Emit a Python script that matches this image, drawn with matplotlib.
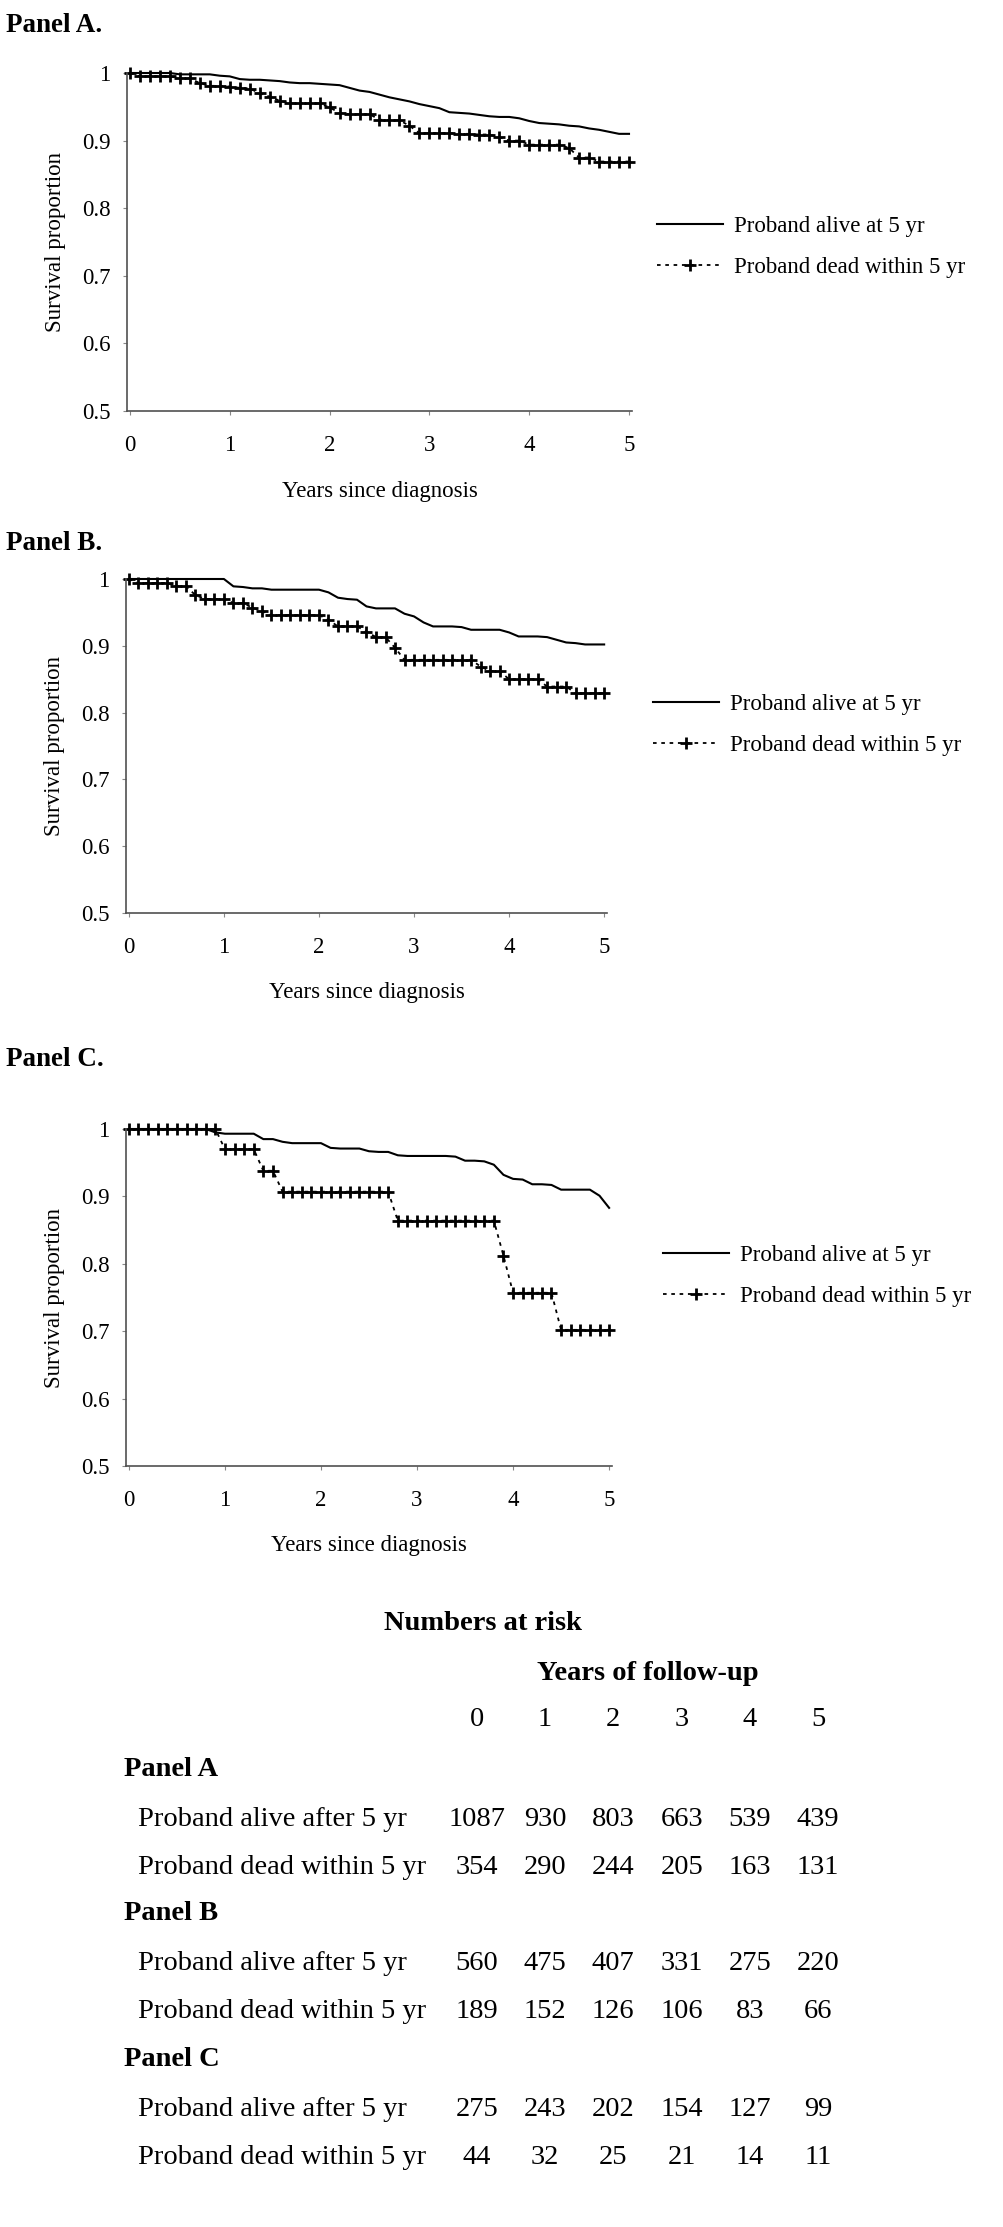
import matplotlib
matplotlib.use("Agg")
import matplotlib.pyplot as plt
import numpy as np

plt.rcParams["font.family"] = ["Liberation Serif", "DejaVu Serif"]

# survival read at 0.1-year steps, 0 .. 5 years
years = np.round(np.arange(0, 5.01, 0.1), 1)

alive_a = [1.000, 1.000, 1.000, 1.000, 1.000, 0.998, 0.998, 0.998, 0.998, 0.996,
           0.995, 0.991, 0.990, 0.990, 0.989, 0.988, 0.986, 0.985, 0.985, 0.984,
           0.983, 0.982, 0.978, 0.974, 0.972, 0.968, 0.964, 0.961, 0.958, 0.954,
           0.951, 0.948, 0.942, 0.941, 0.940, 0.938, 0.936, 0.935, 0.935, 0.933,
           0.929, 0.926, 0.925, 0.924, 0.922, 0.921, 0.918, 0.916, 0.913, 0.910,
           0.910]
dead_a = [1.000, 0.995, 0.995, 0.995, 0.995, 0.992, 0.992, 0.985, 0.981, 0.981,
          0.980, 0.978, 0.977, 0.970, 0.965, 0.959, 0.955, 0.955, 0.955, 0.955,
          0.949, 0.941, 0.939, 0.939, 0.939, 0.931, 0.930, 0.930, 0.922, 0.911,
          0.911, 0.911, 0.911, 0.910, 0.910, 0.909, 0.909, 0.905, 0.900, 0.900,
          0.894, 0.894, 0.894, 0.894, 0.889, 0.875, 0.875, 0.869, 0.869, 0.869,
          0.869]

alive_b = [1.000, 1.000, 1.000, 1.000, 1.000, 1.000, 1.000, 1.000, 1.000, 1.000,
           1.000, 0.989, 0.988, 0.986, 0.986, 0.984, 0.984, 0.984, 0.984, 0.984,
           0.984, 0.980, 0.972, 0.970, 0.969, 0.959, 0.956, 0.956, 0.956, 0.948,
           0.944, 0.935, 0.929, 0.929, 0.929, 0.928, 0.924, 0.924, 0.924, 0.924,
           0.920, 0.914, 0.914, 0.914, 0.913, 0.909, 0.905, 0.904, 0.902, 0.902,
           0.902]
dead_b = [1.000, 0.994, 0.994, 0.994, 0.994, 0.989, 0.989, 0.976, 0.970, 0.970,
          0.970, 0.964, 0.964, 0.957, 0.952, 0.946, 0.946, 0.946, 0.946, 0.946,
          0.946, 0.939, 0.929, 0.929, 0.929, 0.921, 0.913, 0.913, 0.897, 0.879,
          0.879, 0.879, 0.879, 0.879, 0.879, 0.879, 0.879, 0.869, 0.862, 0.862,
          0.850, 0.850, 0.850, 0.850, 0.839, 0.839, 0.839, 0.829, 0.829, 0.829,
          0.829]

alive_c = [1.000, 1.000, 1.000, 1.000, 1.000, 1.000, 1.000, 1.000, 1.000, 0.995,
           0.993, 0.993, 0.993, 0.993, 0.985, 0.985, 0.981, 0.979, 0.979, 0.979,
           0.979, 0.972, 0.971, 0.971, 0.971, 0.967, 0.966, 0.966, 0.961, 0.960,
           0.960, 0.960, 0.960, 0.960, 0.959, 0.953, 0.953, 0.952, 0.947, 0.932,
           0.926, 0.925, 0.918, 0.918, 0.917, 0.910, 0.910, 0.910, 0.910, 0.901,
           0.883]
dead_c = [1.000, 1.000, 1.000, 1.000, 1.000, 1.000, 1.000, 1.000, 1.000, 1.000,
          0.970, 0.970, 0.970, 0.970, 0.938, 0.938, 0.907, 0.907, 0.907, 0.907,
          0.907, 0.907, 0.907, 0.907, 0.907, 0.907, 0.907, 0.907, 0.864, 0.864,
          0.864, 0.864, 0.864, 0.864, 0.864, 0.864, 0.864, 0.864, 0.864, 0.812,
          0.757, 0.757, 0.757, 0.757, 0.757, 0.702, 0.702, 0.702, 0.702, 0.702,
          0.702]

legend_labels = ["Proband alive at 5 yr", "Proband dead within 5 yr"]

# numbers at risk table
risk_years = ["0", "1", "2", "3", "4", "5"]
risk_groups = ["Panel A", "Panel B", "Panel C"]
risk_rows = ["Proband alive after 5 yr", "Proband dead within 5 yr"]
risk_a = [[1087, 930, 803, 663, 539, 439], [354, 290, 244, 205, 163, 131]]
risk_b = [[560, 475, 407, 331, 275, 220], [189, 152, 126, 106, 83, 66]]
risk_c = [[275, 243, 202, 154, 127, 99], [44, 32, 25, 21, 14, 11]]

W, H = 1004, 2227


def fx(px):
    return px / W


def fy(py):
    return 1 - py / H


fig = plt.figure(figsize=(W / 100, H / 100), dpi=100)

# (title, title_y, left, right, top, bottom, legend_x, legend_row1_y, alive, dead)
panels = [
    ("Panel A.", 26, 127, 632, 73, 411, 657, 224, alive_a, dead_a),
    ("Panel B.", 544, 126, 607, 579, 913, 653, 702, alive_b, dead_b),
    ("Panel C.", 1059, 126, 612, 1129, 1466, 663, 1253, alive_c, dead_c),
]

tick_fs = 16.5
for title, ty, l, r, t, b, lx, ly, alive, dead in panels:
    ax = fig.add_axes([fx(l), fy(b), (r - l) / W, (b - t) / H])
    fig.text(fx(6), fy(ty), title, fontsize=19.5, fontweight="bold",
             ha="left", va="center")

    h1, = ax.plot(years, alive, color="black", lw=1.5, clip_on=False)
    h2, = ax.plot(years, dead, color="black", lw=1.3, ls=(0, (2.0, 2.6)),
                  marker="+", ms=8, mew=2.0, clip_on=False)

    ax.set_xlim(-0.03, 5.03)
    ax.set_ylim(0.5, 1.0)
    ax.set_xticks([0, 1, 2, 3, 4, 5])
    ax.set_xticklabels(["0", "1", "2", "3", "4", "5"])
    ax.set_yticks([0.5, 0.6, 0.7, 0.8, 0.9, 1.0])
    ax.set_yticklabels(["0.5", "0.6", "0.7", "0.8", "0.9", "1"])
    ax.tick_params(axis="x", direction="out", length=3, width=0.8,
                   color="#888888", pad=14, labelsize=tick_fs)
    ax.tick_params(axis="y", direction="out", length=3, width=0.8,
                   color="#888888", pad=9, labelsize=tick_fs)
    for side in ["top", "right"]:
        ax.spines[side].set_visible(False)
    for side in ["left", "bottom"]:
        ax.spines[side].set_color("#505050")
        ax.spines[side].set_linewidth(1.2)

    ax.set_xlabel("Years since diagnosis", fontsize=tick_fs)
    ax.xaxis.set_label_coords(0.5, -80 / (b - t))
    ax.xaxis.label.set_va("center")
    ax.set_ylabel("Survival proportion", fontsize=tick_fs)
    ax.yaxis.set_label_coords((55 - l) / (r - l), 0.5)
    ax.yaxis.label.set_va("center")

    ax.legend([h1, h2], legend_labels, loc="upper left",
              bbox_to_anchor=(fx(lx), fy(ly - 8)),
              bbox_transform=fig.transFigure, frameon=False,
              borderpad=0, borderaxespad=0, handlelength=2.9,
              handletextpad=0.45, labelspacing=0.85, fontsize=tick_fs,
              numpoints=1)

# numbers at risk
fs = 20.5
col_x = [477, 545, 613, 682, 750, 818]
fig.text(fx(483), fy(1623), "Numbers at risk", fontsize=fs,
         fontweight="bold", ha="center", va="center")
fig.text(fx(648), fy(1673), "Years of follow-up", fontsize=fs,
         fontweight="bold", ha="center", va="center")
for x, lab in zip(col_x, risk_years):
    fig.text(fx(x), fy(1720), lab, fontsize=fs, ha="center", va="center")

group_y = [1770, 1914, 2060]
for gy, group, counts in zip(group_y, risk_groups, [risk_a, risk_b, risk_c]):
    fig.text(fx(124), fy(gy), group, fontsize=fs, fontweight="bold",
             ha="left", va="center")
    for k, (row_lab, row_vals) in enumerate(zip(risk_rows, counts)):
        ry = gy + 49 + 48 * k
        fig.text(fx(138), fy(ry), row_lab, fontsize=fs, ha="left", va="center")
        for x, v in zip(col_x, row_vals):
            fig.text(fx(x), fy(ry), str(v), fontsize=fs, ha="center",
                     va="center")

fig.savefig("out.png", dpi=100)
